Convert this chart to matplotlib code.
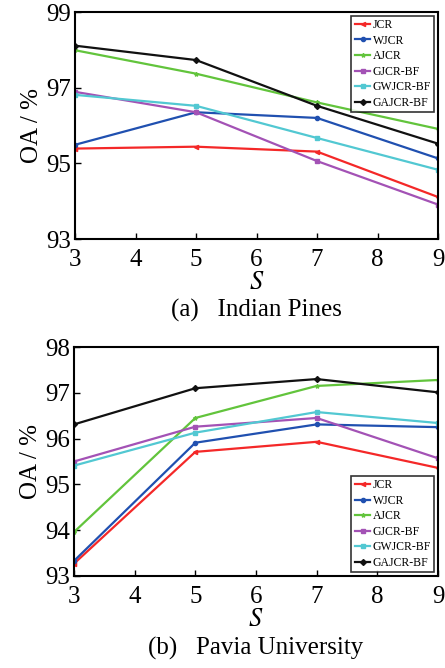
import numpy as np
import matplotlib.pyplot as plt

plt.rcParams['font.family'] = ['Liberation Serif', 'DejaVu Serif']
plt.rcParams['mathtext.fontset'] = 'stix'

S = [3, 5, 7, 9]
methods = ['JCR', 'WJCR', 'AJCR', 'GJCR-BF', 'GWJCR-BF', 'GAJCR-BF']

# Indian Pines
ip_jcr = [95.39, 95.44, 95.31, 94.11]
ip_wjcr = [95.49, 96.35, 96.20, 95.13]
ip_ajcr = [97.99, 97.37, 96.61, 95.91]
ip_gjcr = [96.89, 96.35, 95.06, 93.91]
ip_gwjcr = [96.81, 96.52, 95.67, 94.83]
ip_gajcr = [98.11, 97.73, 96.52, 95.52]

# Pavia University
pu_jcr = [93.27, 95.71, 95.93, 95.36]
pu_wjcr = [93.33, 95.91, 96.31, 96.25]
pu_ajcr = [93.96, 96.45, 97.15, 97.28]
pu_gjcr = [95.50, 96.26, 96.45, 95.57]
pu_gwjcr = [95.41, 96.13, 96.58, 96.34]
pu_gajcr = [96.31, 97.10, 97.30, 97.01]

colors = ['#f42828', '#2050b0', '#62c43c', '#a352b5', '#52c8d2', '#111111']
markers = ['<', 'o', '*', 's', 's', 'D']


def draw(ax, series, ylim, yticks, caption, legend_loc):
    for vals, name, c, m in zip(series, methods, colors, markers):
        ax.plot(S, vals, color=c, marker=m, markersize=3, linewidth=1.6,
                label=name)
    ax.set_xlim(3, 9)
    ax.set_ylim(*ylim)
    ax.set_xticks(range(3, 10))
    ax.set_yticks(yticks)
    ax.tick_params(direction='in', labelsize=18, length=4, width=1)
    ax.tick_params(axis='x', pad=7)
    ax.tick_params(axis='y', pad=3)
    for sp in ax.spines.values():
        sp.set_linewidth(1.5)
    ax.set_ylabel('OA / %', fontsize=18, labelpad=2)
    ax.set_xlabel('$S$', fontsize=19, labelpad=1)
    leg = ax.legend(loc=legend_loc, fontsize=8.5, frameon=True, fancybox=False,
                    edgecolor='black', handlelength=1.3, handletextpad=0.2,
                    labelspacing=0.3, borderpad=0.3, borderaxespad=0.3)
    leg.get_frame().set_linewidth(1.2)
    ax.text(0.5, -0.315, caption, transform=ax.transAxes, ha='center',
            va='center', fontsize=18)


fig = plt.figure(figsize=(4.45, 6.68), dpi=100)
W, H = 445, 668
ax1 = fig.add_axes([75 / W, 1 - 239 / H, 363 / W, 227 / H])
ax2 = fig.add_axes([74 / W, 1 - 576 / H, 364 / W, 229 / H])

draw(ax1, [ip_jcr, ip_wjcr, ip_ajcr, ip_gjcr, ip_gwjcr, ip_gajcr],
     (93, 99), [93, 95, 97, 99], '(a)   Indian Pines', 'upper right')
draw(ax2, [pu_jcr, pu_wjcr, pu_ajcr, pu_gjcr, pu_gwjcr, pu_gajcr],
     (93, 98), [93, 94, 95, 96, 97, 98], '(b)   Pavia University', 'lower right')

fig.savefig('out.png', dpi=100)
